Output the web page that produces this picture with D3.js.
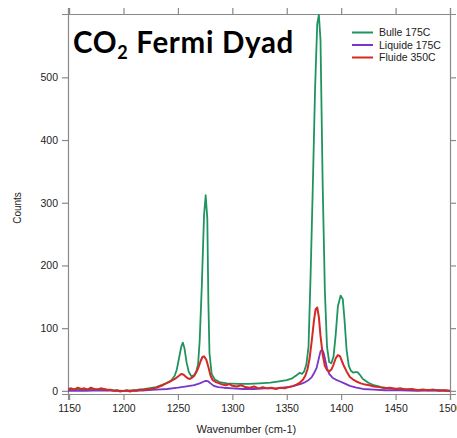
<!DOCTYPE html>
<html>
<head>
<meta charset="utf-8">
<script src="https://cdn.jsdelivr.net/npm/d3@7"></script>
<style>
  html, body { margin: 0; padding: 0; background: #fff; }
  svg { display: block; }
</style>
</head>
<body>
<div id="chart"></div>
<script>
// ---- data ----
const seriesNames = ["Bulle 175C", "Liquide 175C", "Fluide 350C"];
const seriesColors = ["#1f9460", "#7b35c9", "#d42a24"];

const xTicks = [1150, 1200, 1250, 1300, 1350, 1400, 1450, 1500];
const yTicks = [0, 100, 200, 300, 400, 500];

const bulleX = [1149, 1160, 1170, 1180, 1190, 1200, 1210, 1220, 1230, 1238, 1244, 1247, 1249, 1251, 1253, 1254.5, 1256, 1258, 1260, 1262.5, 1265, 1267, 1268.5, 1270, 1272, 1274, 1275.5, 1277, 1278, 1279, 1281, 1284, 1288, 1295, 1305, 1315, 1325, 1335, 1343, 1350, 1355, 1359, 1362, 1364, 1366, 1368, 1370, 1372, 1374, 1376, 1378, 1379.5, 1381, 1383, 1385, 1387, 1389, 1391, 1393, 1395, 1397, 1399.5, 1401.5, 1403, 1405, 1407, 1409, 1411, 1413, 1415, 1417, 1420, 1425, 1430, 1437, 1445, 1455, 1465, 1480, 1490, 1500];
const bulleY = [2, 3, 2, 3, 1, 0, 1, 3, 6, 11, 17, 24, 34, 52, 70, 77, 68, 45, 30, 23, 25, 32, 42, 80, 170, 280, 312, 275, 140, 60, 27, 18, 14, 12, 11, 11, 12, 13, 15, 17, 20, 25, 29, 27, 31, 42, 70, 190, 330, 480, 585, 600, 560, 330, 160, 70, 46, 44, 55, 90, 135, 152, 146, 115, 65, 40, 32, 29, 30, 30, 26, 19, 13, 9, 6, 4, 3, 2, 1, 1, 0];

const liquideX = [1149, 1165, 1180, 1195, 1210, 1220, 1230, 1240, 1250, 1258, 1265, 1270, 1274, 1276, 1278, 1280, 1283, 1287, 1292, 1300, 1310, 1320, 1330, 1340, 1350, 1355, 1359, 1363, 1367, 1370, 1373, 1375, 1377.5, 1379.5, 1381, 1382.5, 1384, 1385.5, 1387, 1389, 1392, 1395, 1399, 1403, 1408, 1414, 1420, 1430, 1440, 1455, 1470, 1485, 1500];
const liquideY = [0, 0, 1, 0, 0, 1, 2, 3, 5, 7, 9, 12, 15, 16, 15, 12, 8, 6, 5, 4, 3, 3, 4, 4, 6, 7, 9, 11, 14, 17, 22, 28, 37, 52, 63, 66, 60, 48, 36, 27, 21, 18, 15, 12, 8, 5, 3, 2, 1, 1, 0, 1, 0];

const fluideX = [1149, 1152, 1155, 1158, 1161, 1164, 1167, 1170, 1173, 1176, 1179, 1182, 1185, 1188, 1191, 1194, 1197, 1200, 1203, 1206, 1209, 1212, 1215, 1218, 1221, 1224, 1227, 1230, 1233, 1236, 1239, 1242, 1245, 1248, 1251, 1253, 1255, 1257, 1259, 1261, 1263, 1265, 1267, 1269, 1271, 1272.5, 1274, 1276, 1278, 1280, 1282, 1285, 1288, 1291, 1294, 1297, 1300, 1304, 1308, 1312, 1316, 1320, 1324, 1328, 1332, 1336, 1340, 1344, 1348, 1352, 1356, 1359, 1362, 1365, 1367, 1369, 1371, 1373, 1375, 1376.5, 1378, 1379.5, 1381, 1383, 1385, 1387, 1389, 1391, 1393, 1395, 1397, 1399, 1401, 1403, 1405, 1408, 1411, 1414, 1418, 1422, 1426, 1430, 1435, 1440, 1445, 1450, 1455, 1460, 1465, 1470, 1475, 1480, 1485, 1490, 1495, 1500];
const fluideY = [3, 4, 2, 5, 3, 4, 2, 5, 3, 2, 4, 3, 1, 2, 0, 1, -1, 0, 1, -1, 1, 0, 2, 1, 3, 2, 4, 5, 7, 9, 12, 14, 17, 20, 24, 27, 26, 23, 20, 19, 21, 24, 30, 38, 48, 54, 55, 50, 38, 24, 17, 14, 12, 10, 9, 11, 8, 7, 9, 6, 5, 7, 4, 6, 4, 5, 3, 5, 4, 6, 8, 10, 13, 18, 24, 34, 52, 80, 112, 130, 133, 118, 88, 58, 40, 33, 31, 34, 42, 52, 57, 55, 46, 38, 31, 22, 18, 15, 12, 10, 9, 7, 6, 4, 5, 3, 4, 2, 3, 1, 2, 1, 2, 0, 1, 0, 1];

const seriesX = [bulleX, liquideX, fluideX];
const seriesY = [bulleY, liquideY, fluideY];

// ---- layout ----
const W = 457, H = 438;
const margin = { top: 14, right: 7, bottom: 44, left: 68 };
const iw = W - margin.left - margin.right;
const ih = H - margin.top - margin.bottom;

const svg = d3.select("#chart").append("svg")
  .attr("width", W).attr("height", H);

const x = d3.scaleLinear().domain([1149, 1500]).range([0, iw]);
const y = d3.scaleLinear().domain([-5, 601]).range([ih, 0]);

const g = svg.append("g").attr("transform", `translate(${margin.left},${margin.top})`);

g.append("clipPath").attr("id", "clip")
  .append("rect").attr("width", iw).attr("height", ih);

const axisColor = "#8a8a8a";
const tickFont = "'Liberation Sans', Arial, sans-serif";

function styleAxis(sel, showText) {
  sel.select(".domain").attr("stroke", axisColor).attr("stroke-width", 1.2);
  sel.selectAll(".tick line").attr("stroke", axisColor).attr("stroke-width", 1.2);
  sel.selectAll(".tick text")
    .attr("fill", "#222")
    .style("font-family", tickFont)
    .style("font-size", "10.5px")
    .style("display", showText ? null : "none");
}

g.append("g").attr("transform", `translate(0,${ih})`)
  .call(d3.axisBottom(x).tickValues(xTicks).tickFormat(d3.format("d")).tickSizeOuter(0).tickSize(6).tickPadding(5))
  .call(s => styleAxis(s, true));
g.append("g")
  .call(d3.axisTop(x).tickValues(xTicks).tickSizeOuter(0).tickSize(6))
  .call(s => styleAxis(s, false));
g.append("g")
  .call(d3.axisLeft(y).tickValues(yTicks).tickFormat(d3.format("d")).tickSizeOuter(0).tickSize(6).tickPadding(4))
  .call(s => styleAxis(s, true));
g.append("g").attr("transform", `translate(${iw},0)`)
  .call(d3.axisRight(y).tickValues(yTicks).tickSizeOuter(0).tickSize(6))
  .call(s => styleAxis(s, false));

// ---- lines ----
const line = d3.line().x(d => x(d[0])).y(d => y(d[1])).curve(d3.curveLinear);
const plot = g.append("g").attr("clip-path", "url(#clip)");
seriesNames.forEach((name, i) => {
  const pts = seriesX[i].map((v, j) => [v, seriesY[i][j]]);
  plot.append("path")
    .datum(pts)
    .attr("fill", "none")
    .attr("stroke", seriesColors[i])
    .attr("stroke-width", i === 2 ? 2 : 1.8)
    .attr("stroke-linejoin", "round")
    .attr("d", line);
});

// ---- title ----
const title = svg.append("text")
  .attr("x", 73).attr("y", 53)
  .style("font-family", "Lato, 'Open Sans', sans-serif")
  .style("font-weight", "bold")
  .style("font-size", "29.5px")
  .style("letter-spacing", "0.7px")
  .attr("fill", "#000");
title.append("tspan").text("CO");
title.append("tspan").text("2").attr("dy", 6).style("font-size", "18px");
title.append("tspan").text(" Fermi Dyad").attr("dy", -6);

// ---- legend ----
const legend = svg.append("g");
const legendY = [32.5, 45, 57.5];
seriesNames.forEach((name, i) => {
  legend.append("line")
    .attr("x1", 352).attr("x2", 373)
    .attr("y1", legendY[i]).attr("y2", legendY[i])
    .attr("stroke", seriesColors[i]).attr("stroke-width", 2);
  legend.append("text")
    .attr("x", 379).attr("y", legendY[i] + 3.5)
    .style("font-family", tickFont)
    .style("font-size", "10.5px")
    .attr("fill", "#222")
    .text(name);
});

// ---- axis labels ----
svg.append("text")
  .attr("x", margin.left + x(1300) + 14).attr("y", 433)
  .attr("text-anchor", "middle")
  .style("font-family", tickFont)
  .style("font-size", "11px")
  .attr("fill", "#222")
  .text("Wavenumber (cm-1)");

svg.append("text")
  .attr("transform", "translate(21,208) rotate(-90)")
  .attr("text-anchor", "middle")
  .style("font-family", tickFont)
  .style("font-size", "10px")
  .attr("fill", "#222")
  .text("Counts");
</script>
</body>
</html>
